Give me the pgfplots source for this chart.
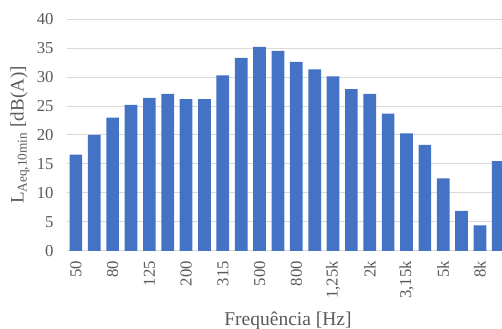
\documentclass[border=0pt]{standalone}
\usepackage{fontspec}
\setmainfont{Liberation Serif}
\usepackage{pgfplots}
\pgfplotsset{compat=1.18}
\usetikzlibrary{calc}
\definecolor{barblue}{HTML}{4472C4}
\definecolor{txtgrey}{HTML}{595959}
\definecolor{gridgrey}{HTML}{D9D9D9}
\pgfplotstableread{
x y
0 16.6
1 20.0
2 23.0
3 25.2
4 26.4
5 27.1
6 26.2
7 26.2
8 30.3
9 33.3
10 35.2
11 34.5
12 32.6
13 31.3
14 30.1
15 27.9
16 27.1
17 23.7
18 20.3
19 18.3
20 12.5
21 6.9
22 4.4
23 15.5
}\datatable
\begin{document}
\begin{tikzpicture}
\begin{axis}[
  name=ax,
  scale only axis,
  width=435.3pt, height=232pt,
  xmin=-0.5, xmax=23.2,
  ymin=0, ymax=40,
  ytick={0,5,...,40},
  xtick={0,2,...,22},
  xticklabels={50,80,125,200,315,500,800,{1,25k},2k,{3,15k},5k,8k},
  axis line style={draw=none},
  major tick length=0pt,
  ymajorgrids,
  grid style={gridgrey, line width=1pt},
  ybar, bar width=12.7pt,
  /pgf/number format/assume math mode=true,
  ticklabel style={font=\fontsize{16.7}{20}\selectfont, text=txtgrey},
  xticklabel style={rotate=90, anchor=east, inner sep=0pt},
  yticklabel style={anchor=east, inner sep=0pt},
  xticklabel shift=10pt,
  yticklabel shift=13pt,
  xlabel={Frequência [Hz]},
  ylabel={L\textsubscript{Aeq,10min} [dB(A)]},
  every axis x label/.style={at={(rel axis cs:0.5084,-0.319)}, anchor=base, font=\fontsize{19.5}{23}\selectfont, text=txtgrey, inner sep=0pt},
  every axis y label/.style={at={(rel axis cs:-0.1073,0.5)}, rotate=90, anchor=center, font=\fontsize{19}{23}\selectfont, text=txtgrey, inner sep=0pt},
]
\addplot[fill=barblue, draw=none] table[x=x, y=y] {\datatable};
\end{axis}
\pgfresetboundingbox
\path ($(ax.south west)+(-66.7pt,-78pt)$) rectangle ($(ax.north east)+(0pt,19pt)$);
\end{tikzpicture}
\end{document}
